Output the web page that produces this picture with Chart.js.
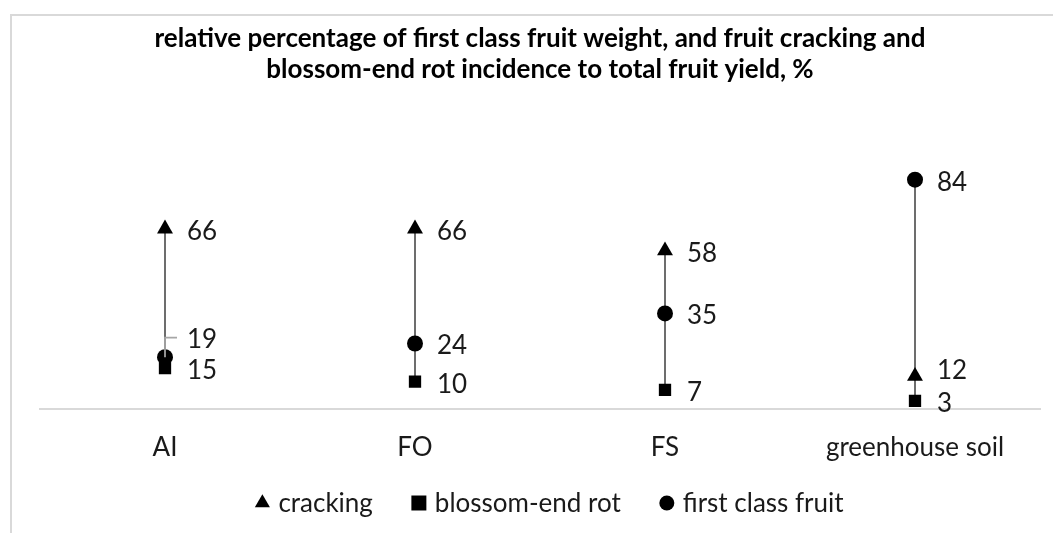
<!DOCTYPE html>
<html>
<head>
<meta charset="utf-8">
<script src="https://cdn.jsdelivr.net/npm/chart.js@4.4.0/dist/chart.umd.min.js"></script>
<style>
  html, body { margin: 0; padding: 0; background: #fff; }
  #wrap { position: relative; width: 1053px; height: 533px; overflow: hidden; }
  #frame { position: absolute; left: 10px; top: 14px; width: 1100px; height: 600px;
           border-left: 2px solid #d9d9d9; border-top: 2px solid #d9d9d9; }
  canvas { position: absolute; left: 0; top: 0; }
</style>
</head>
<body>
<div id="wrap">
  <div id="frame"></div>
  <canvas id="myChart" width="1053" height="533"></canvas>
</div>
<script>
const categories = ['AI', 'FO', 'FS', 'greenhouse soil'];
const cracking = [66, 66, 58, 12];
const blossomEndRot = [15, 10, 7, 3];
const firstClassFruit = [19, 24, 35, 84];
const titleLines = [
  'relative percentage of first class fruit weight, and fruit cracking and',
  'blossom-end rot incidence to total fruit yield, %'
];

const FONT = 'Lato, "Open Sans", sans-serif';
const TEXT = '#1a1a1a';

// vertical line from lowest to highest value at each category
const hiLoLines = {
  id: 'hiLoLines',
  beforeDatasetsDraw(chart) {
    const ctx = chart.ctx;
    const n = chart.data.labels.length;
    ctx.save();
    ctx.strokeStyle = '#595959';
    ctx.lineWidth = 1.75;
    for (let i = 0; i < n; i++) {
      let top = Infinity, bottom = -Infinity, x = 0;
      chart.data.datasets.forEach((ds, d) => {
        const pt = chart.getDatasetMeta(d).data[i];
        x = pt.x;
        top = Math.min(top, pt.y);
        bottom = Math.max(bottom, pt.y);
      });
      ctx.beginPath();
      ctx.moveTo(x, top);
      ctx.lineTo(x, bottom);
      ctx.stroke();
    }
    ctx.restore();
  }
};

// value labels to the right of each marker
const valueLabels = {
  id: 'valueLabels',
  afterDatasetsDraw(chart, args, opts) {
    const ctx = chart.ctx;
    ctx.save();
    ctx.font = '26px ' + FONT;
    ctx.fillStyle = TEXT;
    ctx.textAlign = 'left';
    ctx.textBaseline = 'middle';
    chart.data.datasets.forEach((ds, d) => {
      chart.getDatasetMeta(d).data.forEach((pt, i) => {
        const key = d + ':' + i;
        const shift = opts.shift[key] || 0;
        const ly = pt.y + 2.5 + shift;
        if (opts.leader[key]) {
          ctx.strokeStyle = '#a6a6a6';
          ctx.lineWidth = 1.75;
          ctx.beginPath();
          ctx.moveTo(pt.x, pt.y);
          ctx.lineTo(pt.x, ly - 2);
          ctx.lineTo(pt.x + 12, ly - 2);
          ctx.stroke();
        }
        ctx.fillText(ds.data[i], pt.x + 22, ly);
      });
    });
    ctx.restore();
  }
};

// legend row under the axis, markers taken from each dataset
const bottomLegend = {
  id: 'bottomLegend',
  afterDraw(chart, args, opts) {
    const ctx = chart.ctx;
    ctx.save();
    ctx.font = '26px ' + FONT;
    ctx.textAlign = 'left';
    ctx.textBaseline = 'middle';
    const items = chart.data.datasets.map(ds => ({
      text: ds.label, style: ds.pointStyle, w: ctx.measureText(ds.label).width
    }));
    const total = items.reduce((s, it) => s + 8 + opts.textGap + it.w, 0) +
                  opts.itemGap * (items.length - 1) - 8;
    let x = opts.centerX - total / 2;
    items.forEach(it => {
      ctx.fillStyle = '#000';
      Chart.helpers.drawPoint(ctx, {
        pointStyle: it.style, radius: opts.radius[it.style], rotation: 0, borderWidth: 0
      }, x + 8, opts.y);
      ctx.fillStyle = TEXT;
      ctx.fillText(it.text, x + 8 + opts.textGap, opts.y + 1);
      x += 8 + opts.textGap + it.w + opts.itemGap;
    });
    ctx.restore();
  }
};

const ctx = document.getElementById('myChart');
const chart = new Chart(ctx, {
  type: 'line',
  data: {
    labels: categories,
    datasets: [
      { label: 'cracking', data: cracking, pointStyle: 'triangle', pointRadius: 9.2 },
      { label: 'blossom-end rot', data: blossomEndRot, pointStyle: 'rect', pointRadius: 8.7 },
      { label: 'first class fruit', data: firstClassFruit, pointStyle: 'circle', pointRadius: 8 }
    ].map(ds => Object.assign(ds, {
      showLine: false,
      backgroundColor: '#000',
      borderColor: '#000',
      borderWidth: 0,
      pointHoverRadius: ds.pointRadius
    }))
  },
  options: {
    responsive: false,
    animation: false,
    layout: { padding: { left: 40, right: 13, top: 0, bottom: 46 } },
    plugins: {
      title: {
        display: true,
        text: titleLines,
        color: '#000',
        font: { family: FONT, size: 26, weight: 'bold', lineHeight: 1.2 },
        padding: { top: 23, bottom: 50.6 }
      },
      legend: { display: false },
      tooltip: { enabled: false },
      valueLabels: {
        shift: { '2:0': -20, '0:3': -8 },
        leader: { '2:0': true }
      },
      bottomLegend: {
        centerX: 545,
        y: 503,
        textGap: 16,
        itemGap: 38,
        radius: { triangle: 8.7, rect: 10.6, circle: 7.5 }
      }
    },
    scales: {
      x: {
        offset: true,
        grid: { display: false, drawTicks: false },
        border: { color: '#d9d9d9', width: 2 },
        ticks: { color: TEXT, padding: 28.6, font: { family: FONT, size: 26, lineHeight: 0.8 } }
      },
      y: {
        display: false,
        min: 0,
        max: 100
      }
    }
  },
  plugins: [hiLoLines, valueLabels, bottomLegend]
});
</script>
</body>
</html>
